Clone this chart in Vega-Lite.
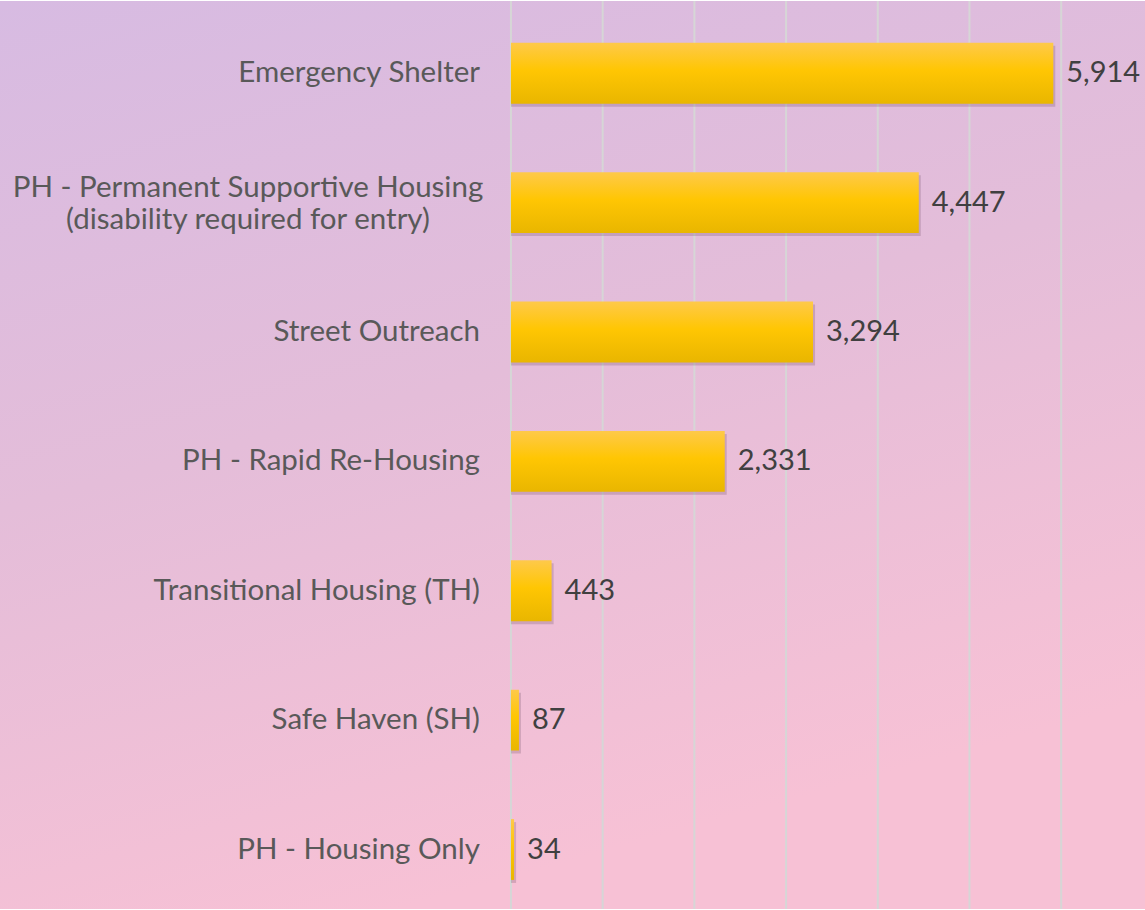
{
  "$schema": "https://vega.github.io/schema/vega-lite/v6.json",
  "width": 1145,
  "height": 910,
  "padding": 0,
  "autosize": {"type": "fit", "contains": "padding"},
  "config": {"view": {"stroke": null}, "font": "Lato"},
  "datasets": {
    "grid": [{"g": 0}, {"g": 1000}, {"g": 2000}, {"g": 3000}, {"g": 4000}, {"g": 5000}, {"g": 6000}]
  },
  "data": {"values": [
    {"category": "Emergency Shelter", "label": "Emergency Shelter", "value": 5914, "multi": false},
    {"category": "PH - Permanent Supportive Housing (disability required for entry)", "label": "PH - Permanent Supportive Housing\n(disability required for entry)", "value": 4447, "multi": true},
    {"category": "Street Outreach", "label": "Street Outreach", "value": 3294, "multi": false},
    {"category": "PH - Rapid Re-Housing", "label": "PH - Rapid Re-Housing", "value": 2331, "multi": false},
    {"category": "Transitional Housing (TH)", "label": "Transitional Housing (TH)", "value": 443, "multi": false},
    {"category": "Safe Haven (SH)", "label": "Safe Haven (SH)", "value": 87, "multi": false},
    {"category": "PH - Housing Only", "label": "PH - Housing Only", "value": 34, "multi": false}
  ]},
  "encoding": {
    "y": {"field": "category", "type": "nominal", "sort": null, "axis": null,
          "scale": {"paddingInner": 0.53, "paddingOuter": 0.274, "align": 0.59}},
    "x": {"field": "value", "type": "quantitative",
          "scale": {"domain": [-5572, 6914], "nice": false, "zero": false},
          "axis": null}
  },
  "layer": [
    {
      "data": {"values": [{}]},
      "mark": {"type": "rect", "color": {"gradient": "linear", "x1": 0, "y1": 0, "x2": 0.35, "y2": 1,
        "stops": [{"offset": 0, "color": "#d7bbe2"}, {"offset": 0.5, "color": "#e4bdd9"}, {"offset": 1, "color": "#f7c1d5"}]}},
      "encoding": {"x": null, "y": null}
    },
    {
      "data": {"name": "grid"},
      "mark": {"type": "rule", "color": "#d6d6d6", "strokeWidth": 2},
      "encoding": {"x": {"field": "g", "type": "quantitative"}, "y": null}
    },
    {
      "mark": {"type": "bar", "color": "#5a3a50", "opacity": 0.22, "xOffset": 2, "yOffset": 3},
      "encoding": {"x2": {"datum": 0}}
    },
    {
      "mark": {"type": "bar", "color": {"gradient": "linear", "x1": 0, "y1": 0, "x2": 0, "y2": 1,
        "stops": [{"offset": 0, "color": "#fec94a"}, {"offset": 0.45, "color": "#ffc603"}, {"offset": 1, "color": "#e9b600"}]}},
      "encoding": {"x2": {"datum": 0}}
    },
    {
      "mark": {"type": "text", "align": "left", "baseline": "middle", "dx": 13, "fontSize": 29, "color": "#404040"},
      "encoding": {"text": {"field": "value", "type": "quantitative", "format": ","}}
    },
    {
      "transform": [{"filter": "!datum.multi"}],
      "mark": {"type": "text", "align": "right", "baseline": "middle", "dx": -31, "fontSize": 29.5, "color": "#595959"},
      "encoding": {"x": {"datum": 0}, "text": {"field": "label"}}
    },
    {
      "transform": [{"filter": "datum.multi"}],
      "mark": {"type": "text", "align": "center", "baseline": "middle", "dx": -263, "dy": -15, "fontSize": 29.5, "color": "#595959", "lineBreak": "\n", "lineHeight": 32},
      "encoding": {"x": {"datum": 0}, "text": {"field": "label"}}
    }
  ]
}
